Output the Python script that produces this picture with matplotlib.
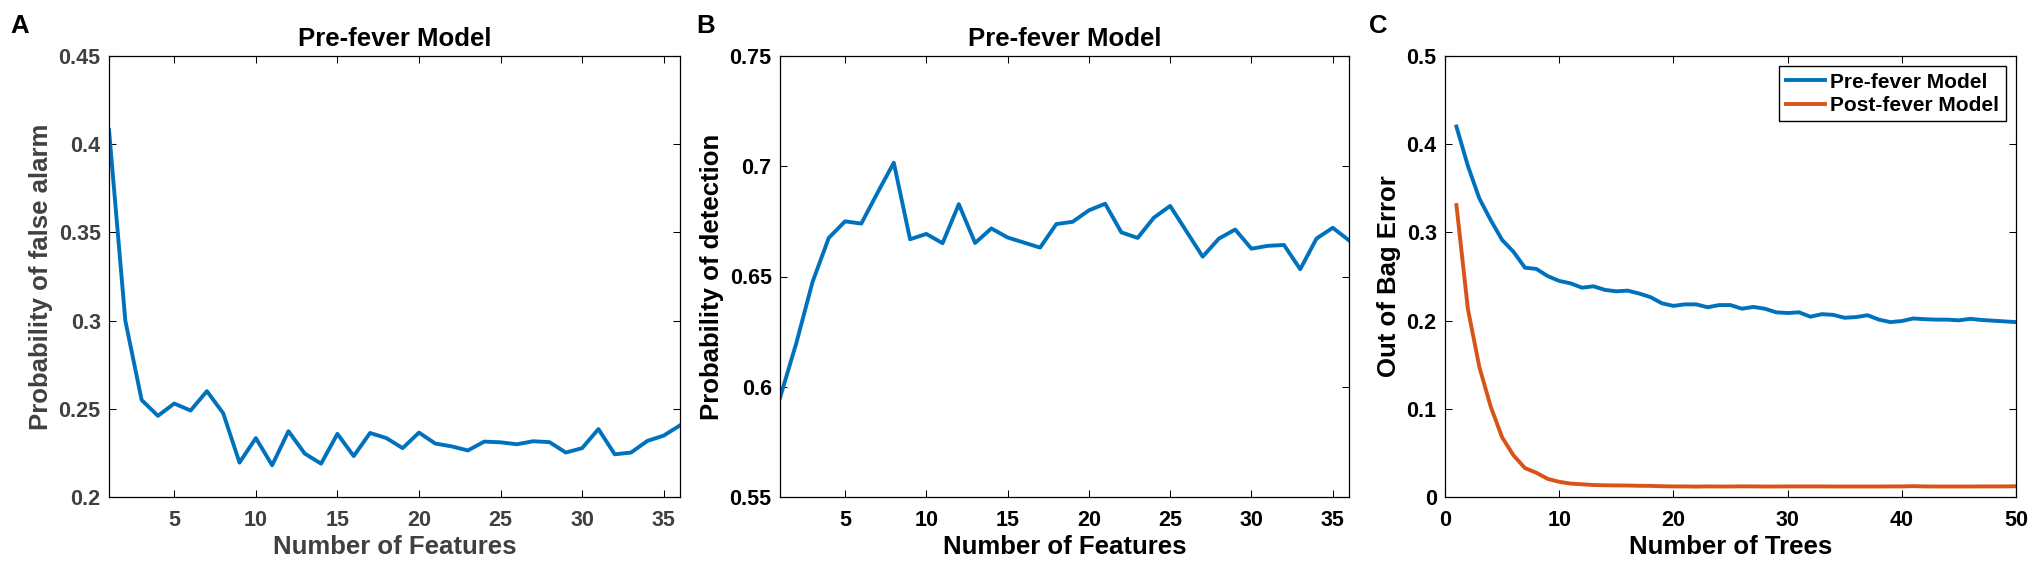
import matplotlib
matplotlib.use('Agg')
import matplotlib.pyplot as plt
from matplotlib.ticker import FuncFormatter

plt.rcParams['font.family'] = ['Liberation Sans', 'DejaVu Sans']
plt.rcParams['font.weight'] = 'bold'

# panel A: false alarm vs number of features (pre-fever)
n_features = list(range(1, 37))
false_alarm = [0.408, 0.300, 0.255, 0.246, 0.253, 0.249, 0.260, 0.2475, 0.2195, 0.2334,
               0.218, 0.2373, 0.2246, 0.2189, 0.2358, 0.2232, 0.2363, 0.2334, 0.2277, 0.2365,
               0.2303, 0.2287, 0.2264, 0.2314, 0.231, 0.2299, 0.2316, 0.2311, 0.2252, 0.2277,
               0.2385, 0.2242, 0.2252, 0.2318, 0.2348, 0.2406]

# panel B: detection vs number of features (pre-fever)
detection = [0.595, 0.6197, 0.6475, 0.6675, 0.675, 0.674, 0.688, 0.7016, 0.6669, 0.6693,
             0.6651, 0.6828, 0.6652, 0.6718, 0.6677, 0.6654, 0.6631, 0.6738, 0.6748, 0.680,
             0.683, 0.670, 0.6675, 0.6767, 0.682, 0.6705, 0.659, 0.6672, 0.6713, 0.6626,
             0.6639, 0.6643, 0.6533, 0.6672, 0.6721, 0.6664]

# panel C: out-of-bag error vs number of trees
n_trees = list(range(1, 51))
oob_pre = [0.420, 0.3756, 0.3387, 0.314, 0.2915, 0.278, 0.260, 0.2586, 0.2504, 0.245,
           0.2422, 0.2373, 0.2389, 0.2348, 0.2332, 0.234, 0.2307, 0.2266, 0.2196, 0.2167,
           0.2184, 0.2184, 0.2151, 0.2176, 0.2176, 0.2135, 0.2155, 0.2135, 0.2094, 0.2086,
           0.2094, 0.2044, 0.2073, 0.2065, 0.2032, 0.204, 0.2061, 0.2011, 0.1983, 0.1995,
           0.2024, 0.2016, 0.2011, 0.2011, 0.2003, 0.202, 0.2007, 0.1999, 0.1991, 0.1983]
oob_post = [0.331, 0.2135, 0.1478, 0.1026, 0.0677, 0.0472, 0.0328, 0.0275, 0.0205, 0.0172,
            0.0152, 0.0144, 0.0136, 0.0133, 0.0131, 0.013, 0.0127, 0.0126, 0.0122, 0.012,
            0.012, 0.0118, 0.012, 0.0119, 0.0119, 0.0121, 0.012, 0.0119, 0.0119, 0.012,
            0.012, 0.012, 0.012, 0.0119, 0.0119, 0.0119, 0.0119, 0.0119, 0.012, 0.012,
            0.0123, 0.012, 0.0119, 0.0119, 0.0119, 0.0119, 0.012, 0.012, 0.012, 0.0122]

blue = '#0072BD'
orange = '#D95319'
W, H = 2033, 567

fig = plt.figure(figsize=(W / 100, H / 100), dpi=100)


def make_axes(left, right, txtcolor):
    ax = fig.add_axes([left / W, 1 - 497 / H, (right - left) / W, 441 / H])
    ax.tick_params(direction='in', top=True, right=True, length=5, width=0.75,
                   labelsize=15.5, colors='black', labelcolor=txtcolor)
    ax.tick_params(axis='y', pad=6)
    ax.tick_params(axis='x', pad=9)
    for s in ax.spines.values():
        s.set_linewidth(0.9)
    ax.yaxis.set_major_formatter(FuncFormatter(lambda v, p: '%g' % round(v, 3)))
    for t in ax.get_xticklabels() + ax.get_yticklabels():
        t.set_fontweight('bold')
    return ax


# A
ax1 = make_axes(109, 680, '#404040')
ax1.plot(n_features, false_alarm, color=blue, lw=2.8)
ax1.set_xlim(1, 36)
ax1.set_ylim(0.2, 0.45)
ax1.set_xticks([5, 10, 15, 20, 25, 30, 35])
ax1.set_yticks([0.2, 0.25, 0.3, 0.35, 0.4, 0.45])
ax1.set_xlabel('Number of Features', fontsize=18.5, fontweight='bold', color='#404040', labelpad=3)
ax1.set_ylabel('Probability of false alarm', fontsize=18.5, fontweight='bold', color='#404040')
ax1.set_title('Pre-fever Model', fontsize=18.5, fontweight='bold', pad=7)

# B
ax2 = make_axes(780, 1349, 'black')
ax2.plot(n_features, detection, color=blue, lw=2.8)
ax2.set_xlim(1, 36)
ax2.set_ylim(0.55, 0.75)
ax2.set_xticks([5, 10, 15, 20, 25, 30, 35])
ax2.set_yticks([0.55, 0.6, 0.65, 0.7, 0.75])
ax2.set_xlabel('Number of Features', fontsize=18.5, fontweight='bold', labelpad=3)
ax2.set_ylabel('Probability of detection', fontsize=18.5, fontweight='bold')
ax2.set_title('Pre-fever Model', fontsize=18.5, fontweight='bold', pad=7)

# C
ax3 = make_axes(1445, 2016, 'black')
ax3.plot(n_trees, oob_pre, color=blue, lw=2.8, label='Pre-fever Model')
ax3.plot(n_trees, oob_post, color=orange, lw=2.8, label='Post-fever Model')
ax3.set_xlim(0, 50)
ax3.set_ylim(0, 0.5)
ax3.set_xticks([0, 10, 20, 30, 40, 50])
ax3.set_yticks([0, 0.1, 0.2, 0.3, 0.4, 0.5])
ax3.set_xlabel('Number of Trees', fontsize=18.5, fontweight='bold', labelpad=3)
ax3.set_ylabel('Out of Bag Error', fontsize=18.5, fontweight='bold')
leg = ax3.legend(loc='upper right', fontsize=15, fancybox=False, edgecolor='black',
                 framealpha=1, handlelength=1.9, handletextpad=0.25, borderpad=0.3,
                 labelspacing=0.2, borderaxespad=0.5, prop={'weight': 'bold', 'size': 15})
leg.get_frame().set_linewidth(1.0)

# panel letters
for x, letter in [(10, 'A'), (696, 'B'), (1369, 'C')]:
    fig.text(x / W, 1 - 33 / H, letter, fontsize=18.5, fontweight='bold', va='baseline')

fig.savefig('out.png', dpi=100)
